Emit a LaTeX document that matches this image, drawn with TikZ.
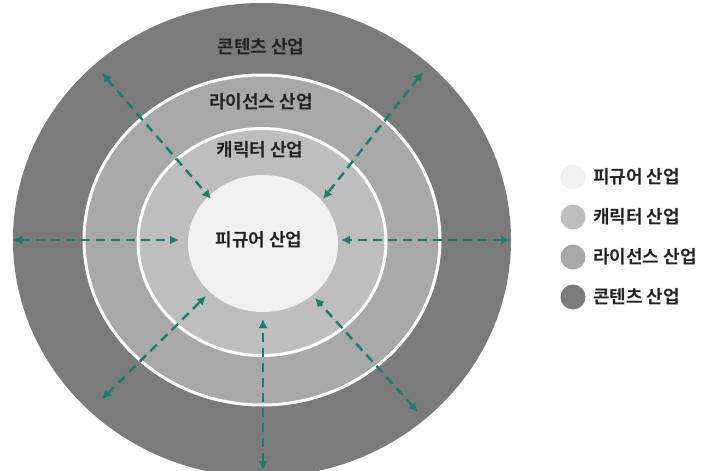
\documentclass[tikz,border=0pt]{standalone}
\usepackage{fontspec}
\newfontfamily\kr{Noto Sans CJK KR}[BoldFont={Noto Sans CJK KR Bold}]
\usetikzlibrary{shapes.geometric,arrows.meta}
\definecolor{ringD}{HTML}{7B7B7B}
\definecolor{ringL}{HTML}{A8A8A8}
\definecolor{ringC}{HTML}{BEBEBE}
\definecolor{ringF}{HTML}{F1F1F1}
\definecolor{teal1}{HTML}{1A7C70}
\definecolor{txt}{HTML}{222222}
\tikzset{
  ring/.style={ellipse, inner sep=0pt},
  lab/.style={font=\kr\bfseries\fontsize{18}{20}\selectfont, text=txt, inner sep=0pt},
  legtxt/.style={font=\kr\bfseries\fontsize{18}{20}\selectfont, text=txt, inner sep=0pt, anchor=west},
  legdot/.style={circle, minimum size=25pt, inner sep=0pt},
  flow/.style={draw=teal1, line width=2.4pt, dash pattern=on 9pt off 6pt, {Latex[length=9pt,width=9pt]}-{Latex[length=9pt,width=9pt]}}
}
\begin{document}
\begin{tikzpicture}[x=1pt,y=-1pt]
\useasboundingbox (0,0) rectangle (710,471);
\fill[white] (0,0) rectangle (710,471);
\begin{scope}
\clip (0,0) rectangle (710,471);
\node[ring, fill=ringD, minimum width=498pt, minimum height=474pt] (outer) at (262,240) {};
\node[ring, fill=ringL, draw=white, line width=3pt, minimum width=356pt, minimum height=330pt] (lic) at (262,240) {};
\node[ring, fill=ringC, draw=white, line width=3pt, minimum width=248pt, minimum height=227pt] (chr) at (262,242) {};
\node[ring, fill=ringF, minimum width=150pt, minimum height=137pt] (fig) at (263,243.5) {};

\node[lab] (tcon) at (261,47) {콘텐츠 산업};
\node[lab] (tlic) at (261,102) {라이선스 산업};
\node[lab] (tchr) at (260,150) {캐릭터 산업};
\node[lab] (tfig) at (259,240) {피규어 산업};

\coordinate (oTL) at (102,73);  \coordinate (iTL) at (211,199);
\coordinate (oTR) at (423,72);  \coordinate (iTR) at (323,199);
\coordinate (oL) at (13,240);   \coordinate (iL) at (179,240);
\coordinate (oR) at (510,240);  \coordinate (iR) at (341,240);
\coordinate (oBL) at (102,399); \coordinate (iBL) at (206,296);
\coordinate (oB) at (263,470);  \coordinate (iB) at (263,319);
\coordinate (oBR) at (418,412); \coordinate (iBR) at (315,298);

\draw[flow] (oTL) -- (iTL);
\draw[flow] (oTR) -- (iTR);
\draw[flow] (oL) -- (iL);
\draw[flow] (oR) -- (iR);
\draw[flow] (oBL) -- (iBL);
\draw[flow] (oB) -- (iB);
\draw[flow] (oBR) -- (iBR);
\end{scope}

\node[legdot, fill=ringF] (d1) at (573,177) {};
\node[legdot, fill=ringC] (d2) at (573,217) {};
\node[legdot, fill=ringL] (d3) at (573,257) {};
\node[legdot, fill=ringD] (d4) at (573,297) {};
\node[legtxt] (l1) at (593,177) {피규어 산업};
\node[legtxt] (l2) at (593,217) {캐릭터 산업};
\node[legtxt] (l3) at (593,257) {라이선스 산업};
\node[legtxt] (l4) at (593,297) {콘텐츠 산업};
\end{tikzpicture}
\end{document}
